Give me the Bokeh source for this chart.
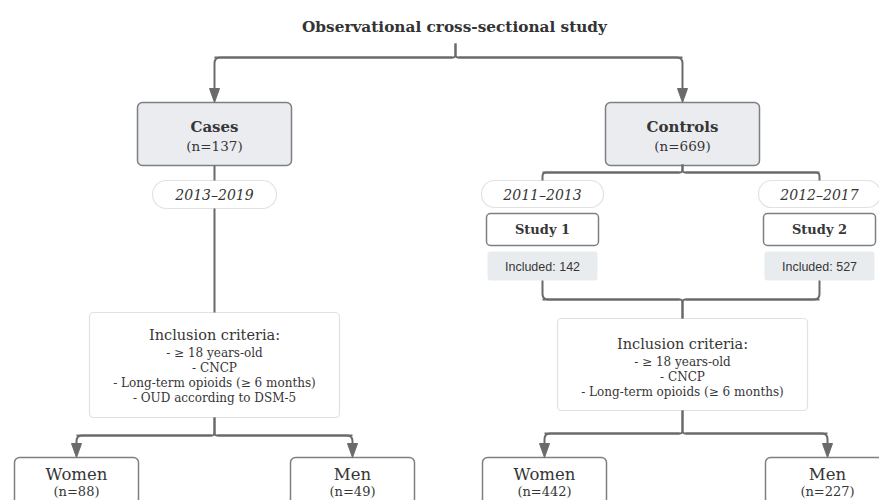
from bokeh.plotting import figure
from bokeh.models import Range1d
from bokeh.core.properties import value
from bokeh.embed import file_html
from bokeh.resources import INLINE
import math

# ---------------- data ----------------
title = "Observational cross-sectional study"
groups = ["Cases", "Controls"]
group_n = [137, 669]
case_period = "2013–2019"
studies = ["Study 1", "Study 2"]
study_periods = ["2011–2013", "2012–2017"]
study_included = [142, 527]
criteria_heading = "Inclusion criteria:"
criteria_cases = ["≥ 18 years-old", "CNCP", "Long-term opioids (≥ 6 months)", "OUD according to DSM-5"]
criteria_controls = ["≥ 18 years-old", "CNCP", "Long-term opioids (≥ 6 months)"]
sexes = ["Women", "Men"]
case_sex_n = [88, 49]
control_sex_n = [442, 227]

# ---------------- style ----------------
SERIF = value("DejaVu Serif")
SANS = value("Liberation Sans")
TXT = "#363636"
LINE = "#6a6a6a"
BOX_FILL = "#eaecf0"
BOX_LINE = "#7c7f84"
SOFT_LINE = "#e2e2e2"
INC_FILL = "#e9ecef"

p = figure(width=879, height=500, output_backend="svg", toolbar_location=None,
           x_range=Range1d(0, 879), y_range=Range1d(500, 0),
           min_border=0, outline_line_color=None)
p.axis.visible = False
p.grid.visible = False
p.background_fill_color = "white"


def rounded_path(pts, r=6, n=6):
    xs, ys = [pts[0][0]], [pts[0][1]]
    for i in range(1, len(pts) - 1):
        (x0, y0), (x1, y1), (x2, y2) = pts[i - 1], pts[i], pts[i + 1]
        d1 = math.hypot(x1 - x0, y1 - y0)
        d2 = math.hypot(x2 - x1, y2 - y1)
        rr = min(r, d1 / 2, d2 / 2)
        ax, ay = x1 - (x1 - x0) / d1 * rr, y1 - (y1 - y0) / d1 * rr
        bx, by = x1 + (x2 - x1) / d2 * rr, y1 + (y2 - y1) / d2 * rr
        for k in range(n + 1):
            t = k / n
            qx = (1 - t) ** 2 * ax + 2 * (1 - t) * t * x1 + t ** 2 * bx
            qy = (1 - t) ** 2 * ay + 2 * (1 - t) * t * y1 + t ** 2 * by
            xs.append(qx)
            ys.append(qy)
    xs.append(pts[-1][0])
    ys.append(pts[-1][1])
    return xs, ys


line_xs, line_ys = [], []
head_xs, head_ys = [], []


def path(pts, r=6):
    xs, ys = rounded_path(pts, r)
    line_xs.append(xs)
    line_ys.append(ys)


def brace(cx, y_stem, y_bar, xl, xr, y_ends):
    """Stem at cx from y_stem to bar at y_bar, bar from xl to xr, ends to y_ends."""
    for xe in (xl, xr):
        xs1, ys1 = rounded_path([(cx, y_stem), (cx, y_bar), (xe, y_bar), (xe, y_ends)], r=6)
        # small cusp radius at the junction
        xs2, ys2 = rounded_path([(cx, y_stem), (cx, y_bar), (xe, y_bar)], r=3)
        xs3, ys3 = rounded_path([(cx + (3 if xe > cx else -3), y_bar), (xe, y_bar), (xe, y_ends)], r=6)
        line_xs.append(xs2); line_ys.append(ys2)
        line_xs.append(xs3); line_ys.append(ys3)


def arrow_head(x, y1):
    head_xs.append([x - 5, x + 5, x])
    head_ys.append([y1 - 14, y1 - 14, y1])


def box(l, r, t, b, fill, line, radius=5, lw=1.5):
    p.quad(left=[l], right=[r], top=[t], bottom=[b], fill_color=fill,
           line_color=line, line_width=lw, border_radius=radius)


def label(x, y, txt, size, style="normal", font=SERIF, color=TXT):
    p.text(x=[x], y=[y], text=[txt], text_align="center", text_baseline="middle",
           text_font=font, text_font_size=size, text_font_style=style, text_color=color)


# ---- title & top split ----
label(454, 26, title, "15.3px", "bold", color="#333333")
case_x, ctrl_x = 214, 682
brace(455, 43, 57, case_x, ctrl_x, 92)
arrow_head(case_x, 102)
arrow_head(ctrl_x, 102)

# ---- group boxes ----
for cx, g, n in zip([case_x, ctrl_x], groups, group_n):
    box(cx - 77, cx + 77, 102, 165, BOX_FILL, BOX_LINE)
    label(cx, 126, g, "15px", "bold")
    label(cx, 145, f"(n={n})", "13.5px")

# ---- cases branch ----
line_xs.append([case_x, case_x]); line_ys.append([165, 180])
line_xs.append([case_x, case_x]); line_ys.append([208, 312])
box(case_x - 62, case_x + 62, 180, 208, "white", SOFT_LINE, radius=14, lw=1.2)
label(case_x, 194, case_period, "14px", "italic")

# ---- controls branch ----
study_x = [542, 819]
brace(ctrl_x, 164, 172, study_x[0], study_x[1], 180)
for sx, per, st, inc in zip(study_x, study_periods, studies, study_included):
    box(sx - 61, sx + 61, 180, 207, "white", SOFT_LINE, radius=13, lw=1.2)
    label(sx, 194, per, "14px", "italic")
    box(sx - 56, sx + 56, 213, 245, "white", BOX_LINE, radius=4)
    label(sx, 229, st, "13px", "bold")
    box(sx - 55, sx + 55, 251, 280, INC_FILL, None, radius=3, lw=0)
    label(sx, 266, f"Included: {inc}", "12.5px", font=SANS)
brace(ctrl_x, 318, 299, study_x[0], study_x[1], 280)


# ---- inclusion criteria boxes ----
def criteria(cx, top, bottom, head_y, items):
    box(cx - 125, cx + 125, top, bottom, "white", SOFT_LINE, radius=4, lw=1.2)
    label(cx, head_y, criteria_heading, "14.5px")
    for i, it in enumerate(items):
        label(cx, head_y + 18 + 15 * i, "- " + it, "12px")


criteria(case_x, 312, 417, 334, criteria_cases)
criteria(ctrl_x, 318, 410, 343, criteria_controls)


# ---- sex split ----
def split(cx, y0, yh, xl, xr, ns):
    brace(cx, y0, yh, xl, xr, 447)
    for bx, s, n in zip([xl, xr], sexes, ns):
        arrow_head(bx, 457)
        box(bx - 62, bx + 62, 457, 520, "white", BOX_LINE, radius=5)
        label(bx, 474, s, "16.5px")
        label(bx, 491, f"(n={n})", "13px")


split(case_x, 417, 435, 76, 352, case_sex_n)
split(ctrl_x, 410, 433, 544, 827, control_sex_n)

p.multi_line(xs=line_xs, ys=line_ys, line_color=LINE, line_width=2)
p.patches(xs=head_xs, ys=head_ys, fill_color=LINE, line_color=LINE, line_width=1)

open("out.html", "w").write(file_html(p, INLINE))
